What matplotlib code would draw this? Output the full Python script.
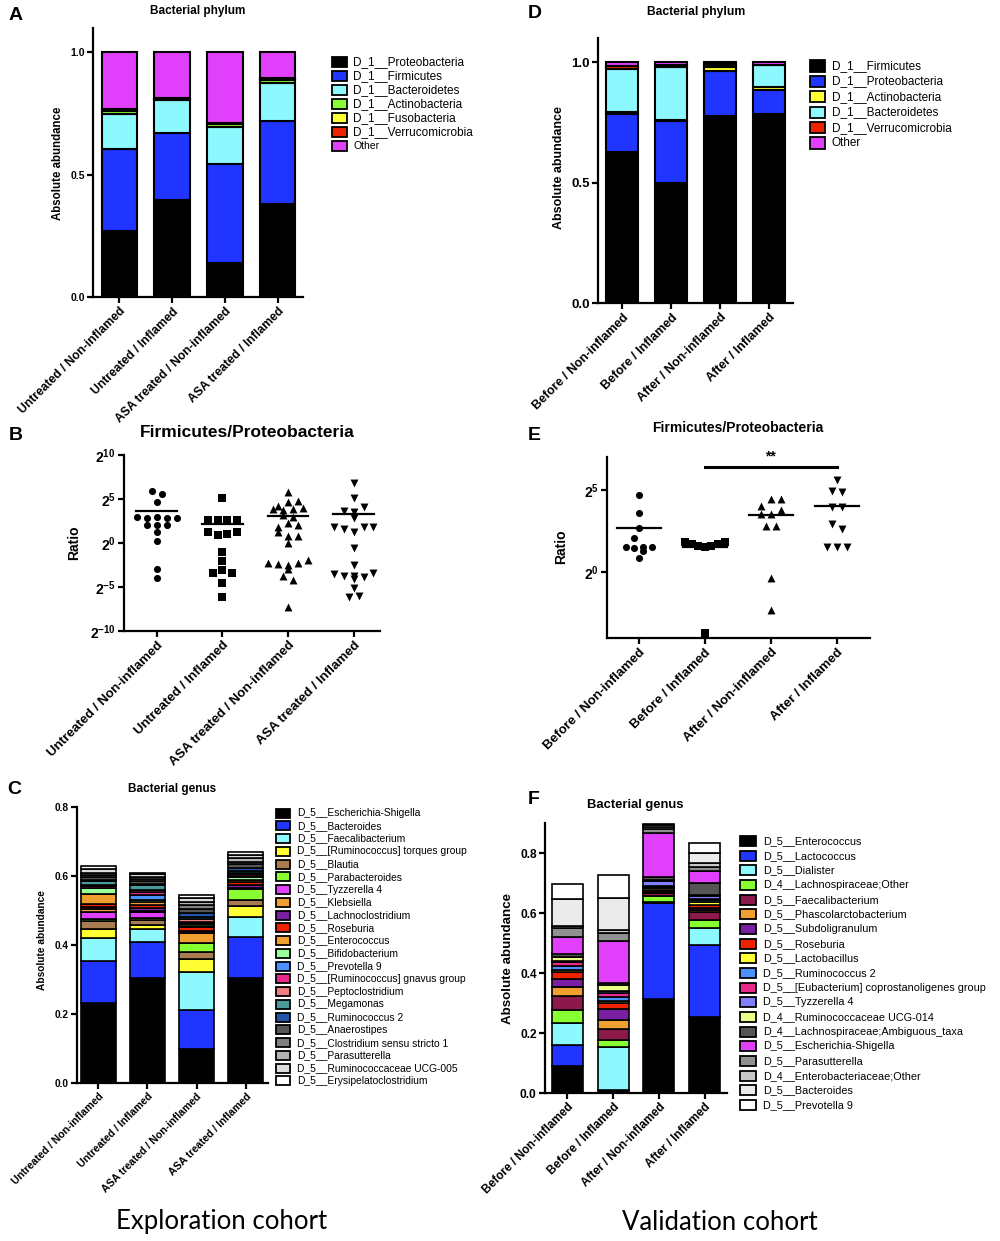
import numpy as np
import matplotlib.pyplot as plt
from matplotlib.patches import Rectangle
from matplotlib.ticker import NullLocator

plt.rcParams['font.family'] = ['Liberation Sans', 'DejaVu Sans']
plt.rcParams['mathtext.fontset'] = 'custom'
plt.rcParams['mathtext.rm'] = 'Liberation Sans'
plt.rcParams['mathtext.bf'] = 'Liberation Sans:bold'

# ---------------- data ----------------
groups_expl = ['Untreated / Non-inflamed', 'Untreated / Inflamed',
               'ASA treated / Non-inflamed', 'ASA treated / Inflamed']
groups_val = ['Before / Non-inflamed', 'Before / Inflamed',
              'After / Non-inflamed', 'After / Inflamed']

# A: phylum, exploration cohort (one row per taxon, one value per group)
phyla_a = ['D_1__Proteobacteria', 'D_1__Firmicutes', 'D_1__Bacteroidetes',
           'D_1__Actinobacteria', 'D_1__Fusobacteria', 'D_1__Verrucomicrobia', 'Other']
phyla_a_colors = ['#000000', '#2035FF', '#8EF8FF', '#88FF33', '#FFFF33', '#EE2200', '#E040FB']
phyla_a_vals = [
    [0.270, 0.396, 0.139, 0.380],
    [0.334, 0.273, 0.403, 0.341],
    [0.143, 0.137, 0.152, 0.153],
    [0.015, 0.004, 0.012, 0.015],
    [0.004, 0.002, 0.003, 0.003],
    [0.002, 0.003, 0.002, 0.002],
    [0.232, 0.185, 0.289, 0.106],
]

# D: phylum, validation cohort
phyla_d = ['D_1__Firmicutes', 'D_1__Proteobacteria', 'D_1__Actinobacteria',
           'D_1__Bacteroidetes', 'D_1__Verrucomicrobia', 'Other']
phyla_d_colors = ['#000000', '#2035FF', '#FFFF33', '#8EF8FF', '#EE2200', '#E040FB']
phyla_d_vals = [
    [0.627, 0.498, 0.775, 0.786],
    [0.159, 0.257, 0.186, 0.099],
    [0.008, 0.004, 0.017, 0.013],
    [0.178, 0.220, 0.012, 0.088],
    [0.010, 0.011, 0.002, 0.004],
    [0.018, 0.010, 0.008, 0.010],
]

# B: Firmicutes/Proteobacteria ratio (log2), exploration cohort
ratio_b = [
    [5.95, 4.66, 5.57, 3.0, 2.86, 3.0, 2.86, 2.86, 2.06, 2.06, 2.06, 1.3, 0.23, -3.0, -3.97],
    [5.15, 2.67, 2.67, 2.67, 2.67, 1.2, 0.9, 1.0, 1.2, -1.07, -2.0, -3.4, -3.1, -3.4, -4.5, -6.1],
    [5.75, 4.2, 4.68, 4.79, 3.9, 3.7, 3.9, 4.0, 3.14, 2.95, 1.8, 2.3, 2.07, 1.23, 0.84, 0.84,
     0.0, -2.3, -2.4, -2.5, -2.3, -1.9, -3.0, -3.76, -4.25, -7.3],
    [6.78, 5.17, 3.6, 3.53, 4.1, 2.84, 1.8, 1.6, 1.23, 1.8, 1.8, -0.57, -2.5, -3.5, -4.14,
     -3.8, -3.7, -3.9, -3.37, -5.1, -6.1, -6.05],
]

# E: Firmicutes/Proteobacteria ratio (log2), validation cohort
ratio_e = [
    [4.72, 3.61, 2.71, 2.05, 1.5, 1.45, 1.55, 1.3, 1.5, 0.84],
    [1.85, 1.7, 1.58, 1.52, 1.58, 1.7, 1.85, -3.7],
    [4.0, 4.46, 4.46, 3.55, 3.55, 3.75, 2.8, 2.8, -0.36, -2.27],
    [5.62, 4.96, 4.86, 3.96, 3.96, 2.95, 2.65, 1.55, 1.5, 1.55],
]

# C: genus, exploration cohort
genera_c = ['D_5__Escherichia-Shigella', 'D_5__Bacteroides', 'D_5__Faecalibacterium',
            'D_5__[Ruminococcus] torques group', 'D_5__Blautia', 'D_5__Parabacteroides',
            'D_5__Tyzzerella 4', 'D_5__Klebsiella', 'D_5__Lachnoclostridium', 'D_5__Roseburia',
            'D_5__Enterococcus', 'D_5__Bifidobacterium', 'D_5__Prevotella 9',
            'D_5__[Ruminococcus] gnavus group', 'D_5__Peptoclostridium', 'D_5__Megamonas',
            'D_5__Ruminococcus 2', 'D_5__Anaerostipes', 'D_5__Clostridium sensu stricto 1',
            'D_5__Parasutterella', 'D_5__Ruminococcaceae UCG-005', 'D_5__Erysipelatoclostridium']
genera_c_colors = ['#000000', '#2035FF', '#8EF8FF', '#FFFF33', '#A87B50', '#88FF33',
                   '#E040FB', '#F0A030', '#7B1FA2', '#EE2200', '#F0A030', '#99FF99',
                   '#4A90FF', '#E8288A', '#F08080', '#4A9A9A', '#2255AA', '#555555',
                   '#808080', '#B4B4B4', '#DCDCDC', '#FFFFFF']
genera_c_vals = [
    [0.232, 0.303, 0.100, 0.303],
    [0.122, 0.107, 0.113, 0.121],
    [0.067, 0.036, 0.109, 0.056],
    [0.024, 0.012, 0.037, 0.033],
    [0.025, 0.015, 0.022, 0.018],
    [0.004, 0.004, 0.024, 0.031],
    [0.023, 0.020, 0.002, 0.002],
    [0.008, 0.003, 0.028, 0.002],
    [0.006, 0.008, 0.006, 0.008],
    [0.007, 0.008, 0.010, 0.010],
    [0.030, 0.009, 0.004, 0.004],
    [0.016, 0.004, 0.006, 0.008],
    [0.002, 0.017, 0.003, 0.003],
    [0.004, 0.008, 0.004, 0.006],
    [0.003, 0.004, 0.008, 0.005],
    [0.012, 0.015, 0.006, 0.004],
    [0.003, 0.005, 0.010, 0.010],
    [0.010, 0.008, 0.012, 0.010],
    [0.004, 0.006, 0.012, 0.008],
    [0.008, 0.006, 0.010, 0.010],
    [0.010, 0.007, 0.010, 0.010],
    [0.010, 0.005, 0.009, 0.008],
]

# F: genus, validation cohort
genera_f = ['D_5__Enterococcus', 'D_5__Lactococcus', 'D_5__Dialister',
            'D_4__Lachnospiraceae;Other', 'D_5__Faecalibacterium', 'D_5__Phascolarctobacterium',
            'D_5__Subdoligranulum', 'D_5__Roseburia', 'D_5__Lactobacillus', 'D_5__Ruminococcus 2',
            'D_5__[Eubacterium] coprostanoligenes group', 'D_5__Tyzzerella 4',
            'D_4__Ruminococcaceae UCG-014', 'D_4__Lachnospiraceae;Ambiguous_taxa',
            'D_5__Escherichia-Shigella', 'D_5__Parasutterella', 'D_4__Enterobacteriaceae;Other',
            'D_5__Bacteroides', 'D_5__Prevotella 9']
genera_f_colors = ['#000000', '#2035FF', '#8EF8FF', '#88FF33', '#8B1A4A', '#F0A030',
                   '#7B1FA2', '#EE2200', '#FFFF33', '#4A90FF', '#E8288A', '#8080FF',
                   '#E8FF88', '#555555', '#E040FB', '#909090', '#C8C8C8', '#EBEBEB', '#FFFFFF']
genera_f_vals = [
    [0.089, 0.009, 0.315, 0.254],
    [0.070, 0.002, 0.318, 0.240],
    [0.076, 0.141, 0.003, 0.055],
    [0.041, 0.024, 0.022, 0.028],
    [0.047, 0.037, 0.008, 0.025],
    [0.029, 0.030, 0.004, 0.008],
    [0.028, 0.036, 0.003, 0.006],
    [0.022, 0.020, 0.003, 0.010],
    [0.008, 0.008, 0.008, 0.012],
    [0.014, 0.013, 0.003, 0.005],
    [0.012, 0.015, 0.003, 0.005],
    [0.005, 0.004, 0.016, 0.008],
    [0.012, 0.020, 0.003, 0.004],
    [0.012, 0.008, 0.010, 0.040],
    [0.056, 0.139, 0.148, 0.039],
    [0.028, 0.028, 0.012, 0.014],
    [0.007, 0.011, 0.008, 0.012],
    [0.091, 0.105, 0.006, 0.035],
    [0.050, 0.078, 0.004, 0.033],
]

# ---------------- helpers ----------------
W, H = 1000, 1241
fig = plt.figure(figsize=(W / 100, H / 100), dpi=100)


def add_ax(x0, x1, y0, y1):
    ax = fig.add_axes([x0 / W, 1 - y1 / H, (x1 - x0) / W, (y1 - y0) / H])
    ax.spines['top'].set_visible(False)
    ax.spines['right'].set_visible(False)
    ax.spines['left'].set_linewidth(1.6)
    ax.spines['bottom'].set_linewidth(1.6)
    ax.tick_params(width=1.6, length=4, direction='out', pad=2)
    return ax


def ftext(x, y, s, **kw):
    return fig.text(x / W, 1 - y / H, s, **kw)


def stacked(ax, vals, colors, width, lw):
    x = np.arange(len(vals[0]))
    bottom = np.zeros(len(x))
    for v, c in zip(vals, colors):
        ax.bar(x, v, width, bottom=bottom, color=c, edgecolor='black', linewidth=lw, zorder=2)
        bottom += np.asarray(v)


def legend_px(x, y, dy, labels, colors, fs, w=15, h=10, gap=6):
    for i, (lab, c) in enumerate(zip(labels, colors)):
        yc = y + i * dy
        fig.add_artist(Rectangle((x / W, 1 - (yc + h / 2) / H), w / W, h / H,
                                 transform=fig.transFigure, facecolor=c,
                                 edgecolor='black', linewidth=1.3))
        ftext(x + w + gap, yc, lab, fontsize=fs, va='center', ha='left')


def spread(vals, thr, step):
    # column-scatter offsets: points with close values share a row
    vals = np.asarray(vals)
    order = np.argsort(-vals, kind='stable')
    off = np.zeros(len(vals))
    rows, cur = [], []
    for i in order:
        if cur and vals[cur[0]] - vals[i] > thr:
            rows.append(cur)
            cur = []
        cur.append(i)
    rows.append(cur)
    for r in rows:
        r = sorted(r)
        for k, i in enumerate(r):
            off[i] = (k - (len(r) - 1) / 2) * step
    return off


def xlabels(ax, labels, fs):
    ax.set_xticks(np.arange(len(labels)))
    ax.set_xticklabels(labels, rotation=45, ha='right', rotation_mode='anchor',
                       fontweight='bold', fontsize=fs)


def ylabels(ax, ticks, fs, fmt='{:.1f}'):
    ax.set_yticks(ticks)
    ax.set_yticklabels([fmt.format(t) for t in ticks], fontweight='bold', fontsize=fs)


def ratio_panel(ax, data, thr, steps, ms, half, lo, hi):
    markers = ['o', 's', '^', 'v']
    sizes = [ms, ms, ms * 1.25, ms * 1.25]
    for g, (vals, m) in enumerate(zip(data, markers)):
        off = spread(vals, thr, steps[g])
        ax.scatter(g + off, 2.0 ** np.asarray(vals), marker=m, s=sizes[g], color='black',
                   linewidths=0, zorder=3, clip_on=False)
        mean = np.mean(2.0 ** np.asarray(vals))
        ax.plot([g - half, g + half], [mean, mean], color='black', lw=1.6, zorder=2)
    ax.set_yscale('log', base=2)
    ax.set_ylim(2.0 ** lo, 2.0 ** hi)
    ax.yaxis.set_minor_locator(NullLocator())


# ---------------- panel A ----------------
ax = add_ax(93, 303, 28, 297)
stacked(ax, phyla_a_vals, phyla_a_colors, 0.67, 1.5)
ax.set_xlim(-0.5, 3.48)
ax.set_ylim(0, 1.1)
ylabels(ax, [0, 0.5, 1.0], 7.5)
xlabels(ax, groups_expl, 8.7)
ftext(198, 11, 'Bacterial phylum', fontsize=8.5, fontweight='bold', ha='center', va='center')
ftext(58, 163, 'Absolute abundance', fontsize=8.3, fontweight='bold', rotation=90,
      ha='center', va='center')
legend_px(332, 62, 14, phyla_a[:-1], phyla_a_colors[:-1], 8.5)
legend_px(332, 62 + 6 * 14, 14, phyla_a[-1:], phyla_a_colors[-1:], 7.5)

# ---------------- panel D ----------------
ax = add_ax(598, 793, 38, 303)
stacked(ax, phyla_d_vals, phyla_d_colors, 0.66, 1.5)
ax.set_xlim(-0.5, 3.5)
ax.set_ylim(0, 1.1)
ylabels(ax, [0, 0.5, 1.0], 9.5)
xlabels(ax, groups_val, 9)
ftext(696, 12, 'Bacterial phylum', fontsize=8.7, fontweight='bold', ha='center', va='center')
ftext(559, 168, 'Absolute abundance', fontsize=9, fontweight='bold', rotation=90,
      ha='center', va='center')
legend_px(810, 66, 15.4, phyla_d, phyla_d_colors, 8.5, w=15, h=11, gap=7)

# ---------------- panel B ----------------
ax = add_ax(124, 380, 455, 631)
ratio_panel(ax, ratio_b, 0.7, [0.15, 0.15, 0.15, 0.15], 26, 0.31, -10, 10)
ax.set_xlim(-0.5, 3.4)
ax.set_yticks([2.0 ** k for k in (-10, -5, 0, 5, 10)])
ax.set_yticklabels([r'$\mathbf{2^{%d}}$' % k for k in (-10, -5, 0, 5, 10)], fontsize=10)
xlabels(ax, groups_expl, 9.5)
ftext(247, 432, 'Firmicutes/Proteobacteria', fontsize=12.5, fontweight='bold',
      ha='center', va='center')
ftext(74, 543, 'Ratio', fontsize=10, fontweight='bold', rotation=90, ha='center', va='center')

# ---------------- panel E ----------------
ax = add_ax(607, 870, 457, 638)
ratio_panel(ax, ratio_e, 0.5, [0.13, 0.1, 0.15, 0.15], 26, 0.33, -4, 7)
ax.set_xlim(-0.48, 3.5)
ax.set_yticks([2.0 ** k for k in (0, 5)])
ax.set_yticklabels([r'$\mathbf{2^{%d}}$' % k for k in (0, 5)], fontsize=10)
xlabels(ax, groups_val, 9.5)
ax.plot([1, 3], [2.0 ** 6.39] * 2, color='black', lw=2.2, clip_on=False)
ax.text(2, 2.0 ** 7.05, '**', ha='center', va='center', fontsize=10, fontweight='bold')
ftext(738, 428, 'Firmicutes/Proteobacteria', fontsize=10, fontweight='bold',
      ha='center', va='center')
ftext(561, 547, 'Ratio', fontsize=10, fontweight='bold', rotation=90, ha='center', va='center')

# ---------------- panel C ----------------
ax = add_ax(77, 268, 807, 1083)
stacked(ax, genera_c_vals, genera_c_colors, 0.71, 1.2)
ax.set_xlim(-0.43, 3.45)
ax.set_ylim(0, 0.8)
ylabels(ax, [0, 0.2, 0.4, 0.6, 0.8], 7.3)
xlabels(ax, groups_expl, 7.6)
ftext(172, 789, 'Bacterial genus', fontsize=8.5, fontweight='bold', ha='center', va='center')
ftext(42, 940, 'Absolute abundance', fontsize=7.3, fontweight='bold', rotation=90,
      ha='center', va='center')
legend_px(276, 813, 12.76, genera_c, genera_c_colors, 7.4, w=14, h=9, gap=7)

# ---------------- panel F ----------------
ax = add_ax(545, 727, 823, 1093)
stacked(ax, genera_f_vals, genera_f_colors, 0.68, 1.2)
ax.set_xlim(-0.49, 3.49)
ax.set_ylim(0, 0.9)
ylabels(ax, [0, 0.2, 0.4, 0.6, 0.8], 8.6)
xlabels(ax, groups_val, 8.5)
ftext(635, 805, 'Bacterial genus', fontsize=9.4, fontweight='bold', ha='center', va='center')
ftext(508, 958, 'Absolute abundance', fontsize=9.6, fontweight='bold', rotation=90,
      ha='center', va='center')
legend_px(740, 841, 14.67, genera_f, genera_f_colors, 7.8, w=16, h=10, gap=7)

# ---------------- panel letters & cohort labels ----------------
for letter, x, y in [('A', 9, 15), ('B', 9, 435), ('C', 7, 790),
                     ('D', 528, 13), ('E', 528, 435), ('F', 528, 800)]:
    ftext(x, y, letter, fontsize=14, fontweight='bold', ha='left', va='center')

ftext(222, 1222, 'Exploration cohort', fontsize=18.5, family=['Lato', 'DejaVu Sans'],
      ha='center', va='center')
ftext(720, 1222, 'Validation cohort', fontsize=18.5, family=['Lato', 'DejaVu Sans'],
      ha='center', va='center')

fig.savefig('out.png', dpi=100, facecolor='white')
